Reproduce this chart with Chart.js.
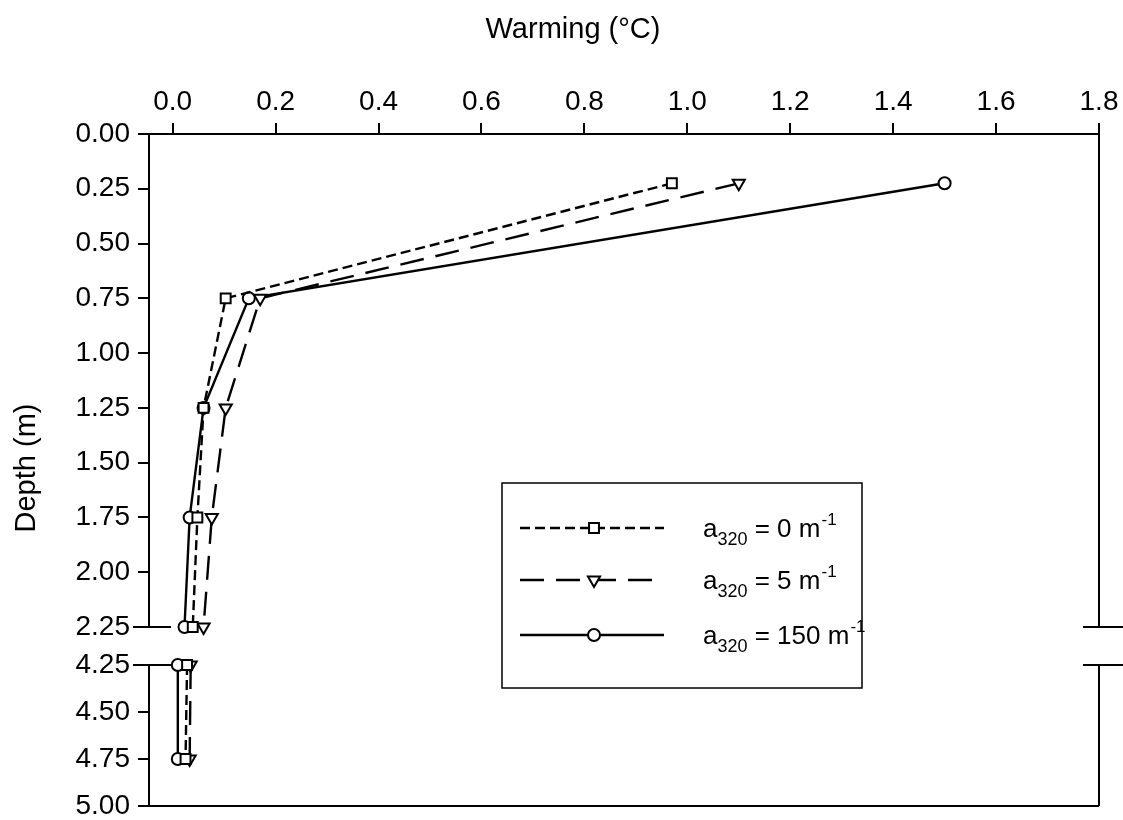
<!DOCTYPE html>
<html>
<head>
<meta charset="utf-8">
<script src="https://cdn.jsdelivr.net/npm/chart.js@4.4.1/dist/chart.umd.min.js"></script>
<style>
    body { margin: 0; background: #fff; }
    #wrap { width: 1123px; height: 820px; position: relative; }
</style>
</head>
<body>
<div id="wrap"><canvas id="depthChart"></canvas></div>
<script>
// depth levels (m), split by the axis break
const upperDepths = [0.225, 0.75, 1.25, 1.75, 2.25];
const lowerDepths = [4.25, 4.75];

// warming (deg C) for each a320 value
const warm0Upper = [0.97, 0.103, 0.06, 0.048, 0.039];
const warm0Lower = [0.028, 0.025];
const warm5Upper = [1.10, 0.17, 0.103, 0.076, 0.06];
const warm5Lower = [0.035, 0.033];
const warm150Upper = [1.50, 0.148, 0.06, 0.033, 0.023];
const warm150Lower = [0.010, 0.010];

const xTicks = [0.0, 0.2, 0.4, 0.6, 0.8, 1.0, 1.2, 1.4, 1.6, 1.8];
const yTopTicks = [0.00, 0.25, 0.50, 0.75, 1.00, 1.25, 1.50, 1.75, 2.00, 2.25];
const yBotTicks = [4.25, 4.50, 4.75, 5.00];

const legendValues = ["0", "5", "150"];

const FONT = "'Liberation Sans', Arial, sans-serif";
const tickFont = { family: FONT, size: 28 };

function pts(xs, ys) {
    return xs.map((x, i) => ({ x: x, y: ys[i] }));
}

const seriesStyles = [
    { dash: [10, 5], pointStyle: "rect", radius: 7, rotation: 0 },
    { dash: [24, 12], pointStyle: "triangle", radius: 7, rotation: 180 },
    { dash: [], pointStyle: "circle", radius: 6, rotation: 0 }
];

function makeSet(data, axis, st) {
    return {
        data: data,
        yAxisID: axis,
        showLine: true,
        borderColor: "#000",
        borderWidth: 2.4,
        borderDash: st.dash,
        pointStyle: st.pointStyle,
        pointRadius: st.radius,
        pointRotation: st.rotation,
        pointBackgroundColor: "#fff",
        pointBorderColor: "#000",
        pointBorderWidth: 2,
        clip: false
    };
}

const datasets = [
    makeSet(pts(warm0Upper, upperDepths), "yTop", seriesStyles[0]),
    makeSet(pts(warm0Lower, lowerDepths), "yBot", seriesStyles[0]),
    makeSet(pts(warm5Upper, upperDepths), "yTop", seriesStyles[1]),
    makeSet(pts(warm5Lower, lowerDepths), "yBot", seriesStyles[1]),
    makeSet(pts(warm150Upper, upperDepths), "yTop", seriesStyles[2]),
    makeSet(pts(warm150Lower, lowerDepths), "yBot", seriesStyles[2])
];

// no label overflow padding, the layout padding sets the plot box
function noOverflow(s) {
    s.paddingTop = 0;
    s.paddingBottom = 0;
    s.paddingLeft = 0;
    s.paddingRight = 0;
}

function yAxis(min, max, ticks, weight, order) {
    return {
        type: "linear",
        position: "left",
        stack: "depth",
        stackWeight: weight,
        weight: order,
        reverse: true,
        min: min,
        max: max,
        afterBuildTicks: function (s) { s.ticks = ticks.map(v => ({ value: v })); },
        afterFit: function (s) { s.width = 149; noOverflow(s); },
        ticks: {
            color: "#000",
            font: tickFont,
            padding: 8,
            autoSkip: false,
            callback: v => v.toFixed(2)
        },
        grid: { drawOnChartArea: false, color: "#000", lineWidth: 2, tickLength: 11 },
        border: { color: "#000", width: 2 }
    };
}

const gapAxis = {
    type: "linear",
    position: "left",
    stack: "depth",
    stackWeight: 38,
    weight: 2,
    reverse: true,
    min: 2.25,
    max: 4.25,
    afterFit: function (s) { s.width = 149; noOverflow(s); },
    ticks: { display: false },
    grid: { display: false },
    border: { display: false }
};

function drawMarker(ctx, st, x, y) {
    ctx.save();
    ctx.setLineDash([]);
    ctx.fillStyle = "#fff";
    ctx.strokeStyle = "#000";
    ctx.lineWidth = 2;
    ctx.beginPath();
    if (st.pointStyle === "rect") {
        const s = st.radius * Math.SQRT1_2;
        ctx.rect(x - s, y - s, 2 * s, 2 * s);
    } else if (st.pointStyle === "triangle") {
        const r = st.radius;
        ctx.moveTo(x, y + r);
        ctx.lineTo(x - r * Math.sin(Math.PI / 3), y - r / 2);
        ctx.lineTo(x + r * Math.sin(Math.PI / 3), y - r / 2);
        ctx.closePath();
    } else {
        ctx.arc(x, y, st.radius, 0, Math.PI * 2);
    }
    ctx.fill();
    ctx.stroke();
    ctx.restore();
}

const framePlugin = {
    id: "frame",
    afterDraw: function (chart) {
        const ctx = chart.ctx;
        const a = chart.chartArea;
        const yTop = chart.scales.yTop;
        const yBot = chart.scales.yBot;
        const b1 = yTop.getPixelForValue(2.25);
        const b2 = yBot.getPixelForValue(4.25);

        ctx.save();
        ctx.strokeStyle = "#000";
        ctx.lineWidth = 2;
        ctx.beginPath();
        // right border with break
        ctx.moveTo(a.right, a.top);
        ctx.lineTo(a.right, b1);
        ctx.moveTo(a.right, b2);
        ctx.lineTo(a.right, a.bottom);
        // bottom border
        ctx.moveTo(a.left - 6, a.bottom);
        ctx.lineTo(a.right, a.bottom);
        // break marks
        ctx.moveTo(a.left - 16, b1);
        ctx.lineTo(a.left + 22, b1);
        ctx.moveTo(a.left - 16, b2);
        ctx.lineTo(a.left + 22, b2);
        ctx.moveTo(a.right - 16, b1);
        ctx.lineTo(a.right + 24, b1);
        ctx.moveTo(a.right - 16, b2);
        ctx.lineTo(a.right + 24, b2);
        ctx.stroke();

        // axis titles
        ctx.fillStyle = "#000";
        ctx.font = "29px " + FONT;
        ctx.textAlign = "center";
        ctx.textBaseline = "middle";
        ctx.fillText("Warming (°C)", 573, 30);
        ctx.save();
        ctx.translate(27, 468);
        ctx.rotate(-Math.PI / 2);
        ctx.fillText("Depth (m)", 0, 0);
        ctx.restore();

        // legend
        const lx = 502, ly = 483, lw = 360, lh = 205;
        ctx.lineWidth = 1.5;
        ctx.strokeRect(lx, ly, lw, lh);
        const rows = [528, 580, 635];
        ctx.textAlign = "left";
        ctx.textBaseline = "alphabetic";
        rows.forEach(function (ry, i) {
            const st = seriesStyles[i];
            ctx.lineWidth = 2.4;
            ctx.setLineDash(st.dash);
            ctx.beginPath();
            ctx.moveTo(520, ry);
            ctx.lineTo(664, ry);
            ctx.stroke();
            ctx.setLineDash([]);
            drawMarker(ctx, st, 594, ry);

            let tx = 703;
            const base = ry + 9;
            ctx.font = "26px " + FONT;
            ctx.fillText("a", tx, base);
            tx += ctx.measureText("a").width;
            ctx.font = "18px " + FONT;
            ctx.fillText("320", tx, base + 8);
            tx += ctx.measureText("320").width;
            ctx.font = "26px " + FONT;
            const mid = " = " + legendValues[i] + " m";
            ctx.fillText(mid, tx, base);
            tx += ctx.measureText(mid).width;
            ctx.font = "17px " + FONT;
            ctx.fillText("-1", tx + 1, base - 12);
        });
        ctx.restore();
    }
};

new Chart(document.getElementById("depthChart").getContext("2d"), {
    type: "scatter",
    data: { datasets: datasets },
    options: {
        responsive: true,
        maintainAspectRatio: false,
        animation: false,
        layout: { padding: { left: 0, top: 0, right: 24, bottom: 14 } },
        plugins: { legend: { display: false }, tooltip: { enabled: false } },
        scales: {
            x: {
                type: "linear",
                position: "top",
                min: -0.046,
                max: 1.8,
                afterBuildTicks: function (s) { s.ticks = xTicks.map(v => ({ value: v })); },
                afterFit: function (s) { s.height = 134; noOverflow(s); },
                ticks: {
                    color: "#000",
                    font: tickFont,
                    padding: 4,
                    maxRotation: 0,
                    autoSkip: false,
                    callback: v => v.toFixed(1)
                },
                grid: { drawOnChartArea: false, color: "#000", lineWidth: 2, tickLength: 11 },
                border: { color: "#000", width: 2 }
            },
            yTop: yAxis(0, 2.25, yTopTicks, 493, 3),
            yGap: gapAxis,
            yBot: yAxis(4.25, 5.0, yBotTicks, 141, 1)
        }
    },
    plugins: [framePlugin]
});
</script>
</body>
</html>
